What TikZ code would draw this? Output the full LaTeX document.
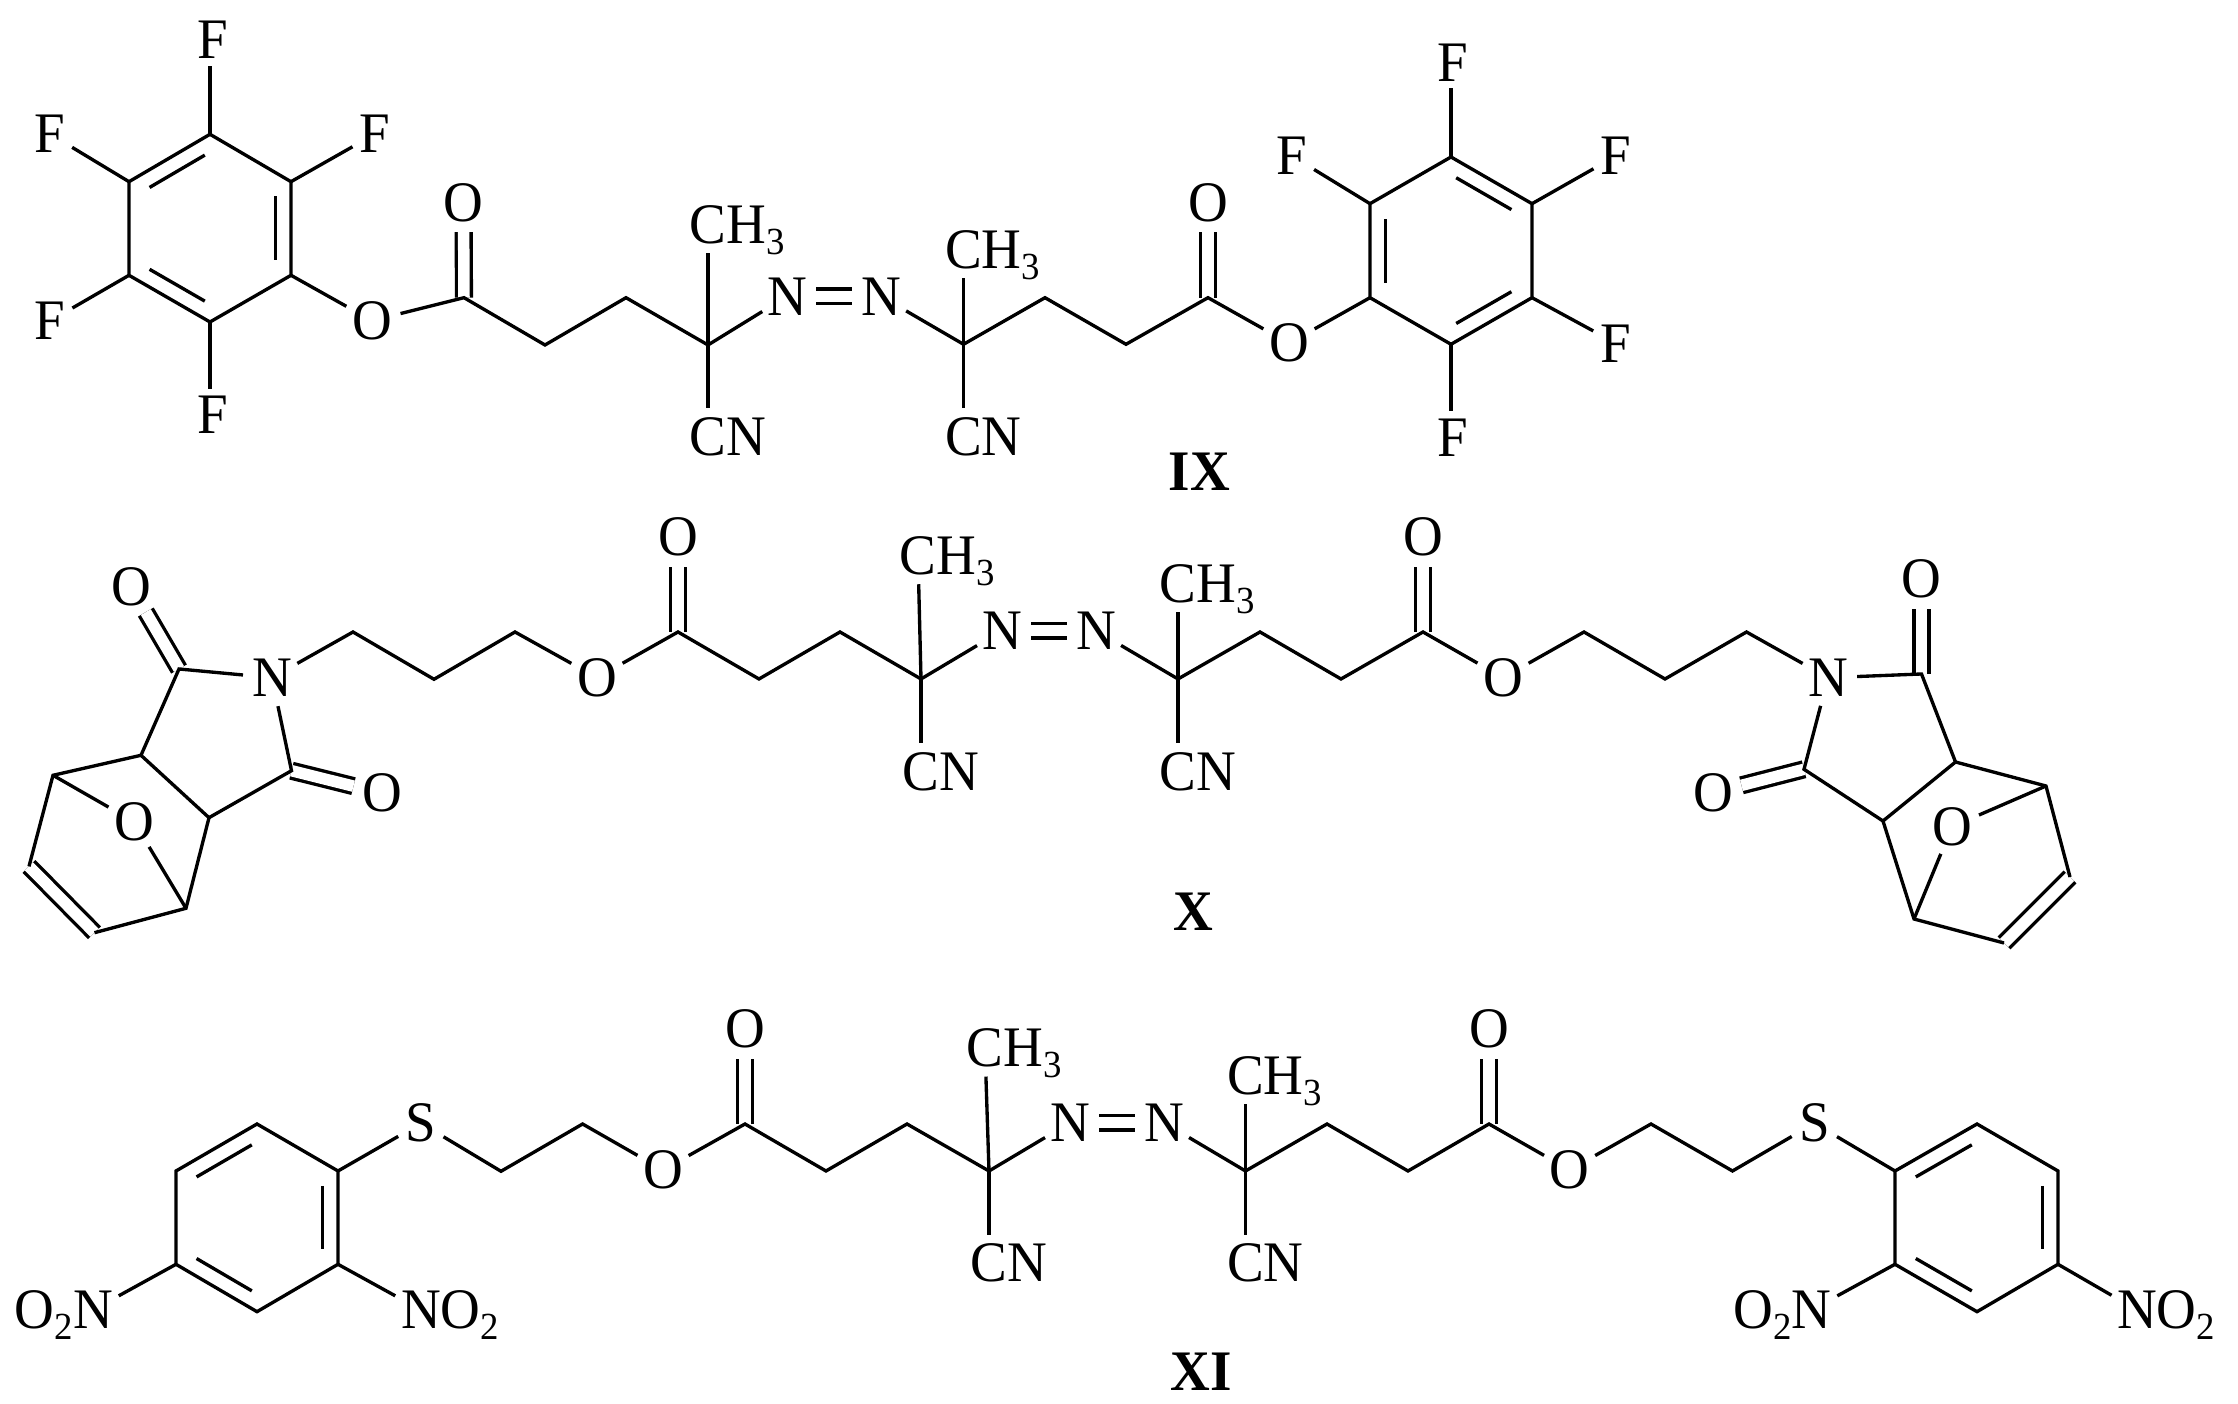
\documentclass[tikz,border=0pt]{standalone}
\usepackage{fontspec}
\usepackage{tikz}
\usetikzlibrary{calc}
\setmainfont[FakeStretch=0.96]{Liberation Serif}
\newcommand{\sbs}[1]{\raisebox{-3.1pt}[0pt][0pt]{\fontsize{10.9}{12}\selectfont #1}}
\tikzset{
  atom/.style={circle, inner sep=0pt, outer sep=0.5pt, text=black, font=\fontsize{16.3}{18}\selectfont},
  lbl/.style={inner sep=0pt, text=black, font=\fontsize{16.3}{18}\selectfont\bfseries},
  bond/.style={line width=0.95pt, black},
  dblbond/.style={bond, double, double distance=0.115cm},
  inbond/.style={bond, shorten >=0.06cm, shorten <=0.06cm}
}
\begin{document}
\begin{tikzpicture}[x=0.01cm, y=-0.01cm]
            \useasboundingbox (0,0) rectangle (2238,1404);

            % IX
            \coordinate (ar1) at (210,134.3);
            \coordinate (ar2) at (291,181.7);
            \coordinate (ar3) at (291,275.3);
            \coordinate (ar4) at (210,322);
            \coordinate (ar5) at (129,275.3);
            \coordinate (ar6) at (129,181.7);
            \coordinate (arc) at (210,228);
            \node[atom] (aF1) at (212.5,40) {F};
            \node[atom] (aF2) at (375,134) {F};
            \node[atom] (aF3) at (212.5,414.5) {F};
            \node[atom] (aF4) at (50,321) {F};
            \node[atom] (aF5) at (50,134) {F};
            \node[atom] (aO1) at (372,320.7) {O};
            \coordinate (aC1) at (464,297.7);
            \node[atom] (aO2) at (463.5,202.7) {O};
            \coordinate (aC2) at (545,345);
            \coordinate (aC3) at (626,297.7);
            \coordinate (aQ1) at (708,345);
            \node[atom] (aMe1) at (708,225) {C\rlap{H\sbs{3}}};
            \node[atom] (aCN1) at (708,436.7) {C\rlap{N}};
            \node[atom] (aN1) at (787,296.3) {N};
            \node[atom] (aN2) at (881,296.3) {N};
            \coordinate (aQ2) at (963.5,344.3);
            \node[atom] (aMe2) at (963.5,250) {C\rlap{H\sbs{3}}};
            \node[atom] (aCN2) at (963.5,436.7) {C\rlap{N}};
            \coordinate (aC4) at (1045,297.7);
            \coordinate (aC5) at (1126,344.3);
            \coordinate (aC6) at (1208,297.7);
            \node[atom] (aO3) at (1208,202.7) {O};
            \node[atom] (aO4) at (1289,343.3) {O};
            \coordinate (as1) at (1451,157);
            \coordinate (as2) at (1532,203.7);
            \coordinate (as3) at (1532,297.7);
            \coordinate (as4) at (1451,344.3);
            \coordinate (as5) at (1370,297.7);
            \coordinate (as6) at (1370,203.7);
            \coordinate (asc) at (1451,250.5);
            \node[atom] (aF6) at (1452.5,62.3) {F};
            \node[atom] (aF7) at (1616,156) {F};
            \node[atom] (aF8) at (1616,343.3) {F};
            \node[atom] (aF9) at (1452.5,437.3) {F};
            \node[atom] (aF10) at (1292,156) {F};
            \node[lbl] (aLbl) at (1199.5,471.7) {IX};

            \draw[dblbond] (aC1) -- (aO2);
            \draw[dblbond] (aC6) -- (aO3);
            \draw[dblbond, double distance=0.11cm] (aN1) -- (aN2);
            \draw[bond] (ar1) -- (ar2) -- (ar3) -- (ar4) -- (ar5) -- (ar6) -- cycle;
            \draw[inbond] ($(ar1)!.19!(arc)$) -- ($(ar6)!.19!(arc)$);
            \draw[inbond] ($(ar2)!.19!(arc)$) -- ($(ar3)!.19!(arc)$);
            \draw[inbond] ($(ar4)!.19!(arc)$) -- ($(ar5)!.19!(arc)$);
            \draw[bond] (ar1) -- (ar1 |- aF1.south);
            \draw[bond] (ar2) -- (aF2);
            \draw[bond] (ar4) -- (ar4 |- aF3.north);
            \draw[bond] (ar5) -- (aF4);
            \draw[bond] (ar6) -- (aF5);
            \draw[bond] (ar3) -- (aO1) -- (aC1) -- (aC2) -- (aC3) -- (aQ1) -- (aN1);
            \draw[bond] (aQ1) -- (aMe1);
            \draw[bond] (aQ1) -- (aCN1);
            \draw[bond] (aN2) -- (aQ2) -- (aC4) -- (aC5) -- (aC6) -- (aO4) -- (as5);
            \draw[bond] (aQ2) -- (aMe2);
            \draw[bond] (aQ2) -- (aCN2);
            \draw[bond] (as1) -- (as2) -- (as3) -- (as4) -- (as5) -- (as6) -- cycle;
            \draw[inbond] ($(as1)!.19!(asc)$) -- ($(as2)!.19!(asc)$);
            \draw[inbond] ($(as3)!.19!(asc)$) -- ($(as4)!.19!(asc)$);
            \draw[inbond] ($(as5)!.19!(asc)$) -- ($(as6)!.19!(asc)$);
            \draw[bond] (as1) -- (as1 |- aF6.south);
            \draw[bond] (as2) -- (aF7);
            \draw[bond] (as3) -- (aF8);
            \draw[bond] (as4) -- (as4 |- aF9.north);
            \draw[bond] (as6) -- (aF10);

            % X
            \node[atom] (bO1) at (131,586.7) {O};
            \coordinate (bK1) at (179,669);
            \node[atom] (bN1) at (272,677.7) {N};
            \coordinate (bK2) at (291.5,770.7);
            \node[atom] (bO2) at (382,793.3) {O};
            \coordinate (bJ1) at (141,755.3);
            \coordinate (bJ2) at (209,817.7);
            \coordinate (bB1) at (53,775.3);
            \coordinate (bB2) at (186,908.3);
            \node[atom] (bO3) at (134,821.7) {O};
            \coordinate (bA1) at (29,866.4);
            \coordinate (bA2) at (94.5,932.7);
            \coordinate (bC1) at (353,632);
            \coordinate (bC2) at (434,679.3);
            \coordinate (bC3) at (515,632);
            \node[atom] (bO4) at (597,677.7) {O};
            \coordinate (bC4) at (678,632);
            \node[atom] (bO5) at (678,537.3) {O};
            \coordinate (bC5) at (759,679);
            \coordinate (bC6) at (840,632);
            \coordinate (bQ1) at (921,679);
            \node[atom] (bMe1) at (918,556) {C\rlap{H\sbs{3}}};
            \node[atom] (bCN1) at (921,771.7) {C\rlap{N}};
            \node[atom] (bN2) at (1002,630.7) {N};
            \node[atom] (bN3) at (1096,630.7) {N};
            \coordinate (bQ2) at (1178,679);
            \node[atom] (bMe2) at (1178,584) {C\rlap{H\sbs{3}}};
            \node[atom] (bCN2) at (1178,771.7) {C\rlap{N}};
            \coordinate (bC7) at (1260,632);
            \coordinate (bC8) at (1341,679);
            \coordinate (bC9) at (1423,632);
            \node[atom] (bO6) at (1423,537.3) {O};
            \node[atom] (bO7) at (1503,677.7) {O};
            \coordinate (bC10) at (1584,632);
            \coordinate (bC11) at (1665,679);
            \coordinate (bC12) at (1746.5,632);
            \node[atom] (bN4) at (1828,677.7) {N};
            \coordinate (bK3) at (1921.5,674);
            \node[atom] (bO8) at (1921.5,579.3) {O};
            \coordinate (bK4) at (1804,769.3);
            \node[atom] (bO9) at (1713,792.7) {O};
            \coordinate (bJ3) at (1955.5,762);
            \coordinate (bJ4) at (1883,821);
            \coordinate (bB3) at (2046,786);
            \coordinate (bB4) at (1914,919);
            \node[atom] (bO10) at (1952,826.7) {O};
            \coordinate (bA3) at (2070,877);
            \coordinate (bA4) at (2004,943);
            \node[lbl] (bLbl) at (1193.5,911.7) {X};

            \draw[dblbond] (bK1) -- (bO1);
            \draw[dblbond] (bK2) -- (bO2);
            \draw[dblbond] (bA1) -- (bA2);
            \draw[dblbond] (bC4) -- (bO5);
            \draw[dblbond, double distance=0.11cm] (bN2) -- (bN3);
            \draw[dblbond] (bC9) -- (bO6);
            \draw[dblbond] (bK3) -- (bO8);
            \draw[dblbond] (bK4) -- (bO9);
            \draw[dblbond] (bA3) -- (bA4);
            \draw[bond] (bJ1) -- (bK1) -- (bN1) -- (bK2) -- (bJ2) -- (bJ1);
            \draw[bond] (bJ1) -- (bB1) -- (bA1);
            \draw[bond] (bA2) -- (bB2) -- (bJ2);
            \draw[bond] (bB1) -- (bO3) -- (bB2);
            \draw[bond] (bN1) -- (bC1) -- (bC2) -- (bC3) -- (bO4) -- (bC4) -- (bC5) -- (bC6) -- (bQ1) -- (bN2);
            \draw[bond] (bQ1) -- (bMe1);
            \draw[bond] (bQ1) -- (bCN1);
            \draw[bond] (bN3) -- (bQ2) -- (bC7) -- (bC8) -- (bC9) -- (bO7) -- (bC10) -- (bC11) -- (bC12) -- (bN4);
            \draw[bond] (bQ2) -- (bMe2);
            \draw[bond] (bQ2) -- (bCN2);
            \draw[bond] (bJ3) -- (bK3) -- (bN4) -- (bK4) -- (bJ4) -- (bJ3);
            \draw[bond] (bJ3) -- (bB3) -- (bA3);
            \draw[bond] (bA4) -- (bB4) -- (bJ4);
            \draw[bond] (bB3) -- (bO10) -- (bB4);

            % XI
            \coordinate (cr1) at (257,1124);
            \coordinate (cr2) at (338,1171);
            \coordinate (cr3) at (338,1264.3);
            \coordinate (cr4) at (257,1311.7);
            \coordinate (cr5) at (176,1264.3);
            \coordinate (cr6) at (176,1171);
            \coordinate (crc) at (257,1218);
            \node[atom] (cNa) at (93,1310) {\llap{O\sbs{2}}N};
            \node[atom] (cNb) at (421,1310) {N\rlap{O\sbs{2}}};
            \node[atom] (cS1) at (421,1123.3) {S};
            \coordinate (cC1) at (501,1171.3);
            \coordinate (cC2) at (582.6,1124);
            \node[atom] (cO1) at (663,1170) {O};
            \coordinate (cC3) at (745,1124);
            \node[atom] (cO2) at (745,1029.3) {O};
            \coordinate (cC4) at (826,1171);
            \coordinate (cC5) at (907,1124);
            \coordinate (cQ1) at (989,1171);
            \node[atom] (cMe1) at (985,1048.3) {C\rlap{H\sbs{3}}};
            \node[atom] (cCN1) at (989,1263.3) {C\rlap{N}};
            \node[atom] (cN1) at (1070,1122.7) {N};
            \node[atom] (cN2) at (1164,1122.7) {N};
            \coordinate (cQ2) at (1245.5,1171);
            \node[atom] (cMe2) at (1245.5,1076) {C\rlap{H\sbs{3}}};
            \node[atom] (cCN2) at (1245.5,1263.3) {C\rlap{N}};
            \coordinate (cC6) at (1327,1124);
            \coordinate (cC7) at (1408,1171);
            \coordinate (cC8) at (1489,1124);
            \node[atom] (cO3) at (1489,1029.3) {O};
            \node[atom] (cO4) at (1569.6,1170) {O};
            \coordinate (cC9) at (1651,1124);
            \coordinate (cC10) at (1732.5,1171);
            \node[atom] (cS2) at (1814.4,1123.3) {S};
            \coordinate (cs1) at (1895,1171);
            \coordinate (cs2) at (1977,1124);
            \coordinate (cs3) at (2058,1171);
            \coordinate (cs4) at (2058,1264.3);
            \coordinate (cs5) at (1977,1311.7);
            \coordinate (cs6) at (1895,1264.3);
            \coordinate (csc) at (1977,1218);
            \node[atom] (cNc) at (1811.5,1310) {\llap{O\sbs{2}}N};
            \node[atom] (cNd) at (2137,1310) {N\rlap{O\sbs{2}}};
            \node[lbl] (cLbl) at (1201.4,1371.7) {XI};

            \draw[dblbond] (cC3) -- (cO2);
            \draw[dblbond] (cC8) -- (cO3);
            \draw[dblbond, double distance=0.11cm] (cN1) -- (cN2);
            \draw[bond] (cr1) -- (cr2) -- (cr3) -- (cr4) -- (cr5) -- (cr6) -- cycle;
            \draw[inbond] ($(cr1)!.19!(crc)$) -- ($(cr6)!.19!(crc)$);
            \draw[inbond] ($(cr2)!.19!(crc)$) -- ($(cr3)!.19!(crc)$);
            \draw[inbond] ($(cr4)!.19!(crc)$) -- ($(cr5)!.19!(crc)$);
            \draw[bond] (cr5) -- (cNa);
            \draw[bond] (cr3) -- (cNb);
            \draw[bond] (cr2) -- (cS1) -- (cC1) -- (cC2) -- (cO1) -- (cC3) -- (cC4) -- (cC5) -- (cQ1) -- (cN1);
            \draw[bond] (cQ1) -- (cMe1);
            \draw[bond] (cQ1) -- (cCN1);
            \draw[bond] (cN2) -- (cQ2) -- (cC6) -- (cC7) -- (cC8) -- (cO4) -- (cC9) -- (cC10) -- (cS2) -- (cs1);
            \draw[bond] (cQ2) -- (cMe2);
            \draw[bond] (cQ2) -- (cCN2);
            \draw[bond] (cs1) -- (cs2) -- (cs3) -- (cs4) -- (cs5) -- (cs6) -- cycle;
            \draw[inbond] ($(cs1)!.19!(csc)$) -- ($(cs2)!.19!(csc)$);
            \draw[inbond] ($(cs3)!.19!(csc)$) -- ($(cs4)!.19!(csc)$);
            \draw[inbond] ($(cs5)!.19!(csc)$) -- ($(cs6)!.19!(csc)$);
            \draw[bond] (cs6) -- (cNc);
            \draw[bond] (cs4) -- (cNd);
        \end{tikzpicture}
\end{document}
